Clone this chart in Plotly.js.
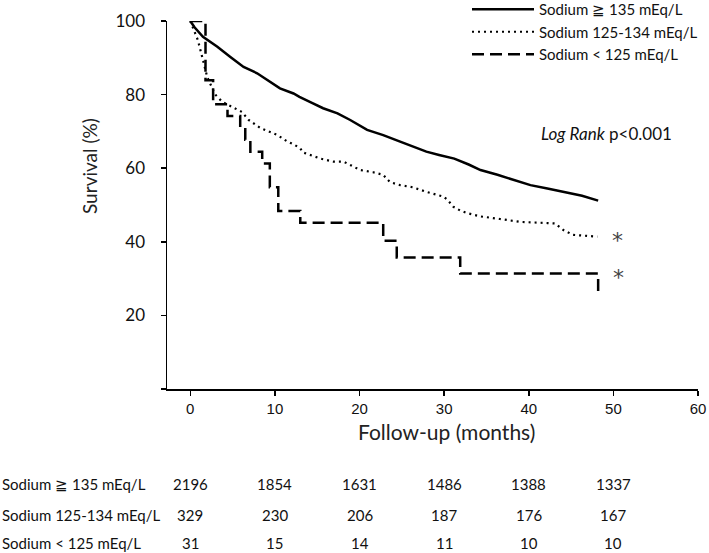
<!DOCTYPE html>
<html>
<head>
<meta charset="utf-8">
<script src="https://cdn.plot.ly/plotly-3.0.1.min.js"></script>
<style>html,body{margin:0;padding:0;background:#fff;}</style>
</head>
<body>
<div id="chart" style="width:709px;height:553px;"></div>
<script>
// Series names
const seriesNames = ["Sodium ≧ 135 mEq/L", "Sodium 125-134 mEq/L", "Sodium &lt; 125 mEq/L"];

// Sodium >= 135 (solid)
const highMonths = [0, 0.5, 1.5, 3.2, 4.7, 6.3, 7.9, 9.4, 10.6, 12.2, 12.9, 14.5, 15.7, 17.4, 18.9, 20.9, 22.8, 24.8, 26.3, 27.9, 29.4, 31.2, 32.9, 34.3, 36.3, 38.2, 40.2, 42.2, 43.5, 44.9, 46.3, 48.2];
const highSurv   = [100, 98.3, 95.7, 93.0, 90.3, 87.5, 85.8, 83.5, 81.7, 80.3, 79.4, 77.6, 76.3, 74.9, 73.1, 70.4, 69.0, 67.2, 65.8, 64.5, 63.6, 62.6, 61.0, 59.5, 58.2, 56.8, 55.4, 54.5, 53.9, 53.2, 52.5, 51.2];

// Sodium 125-134 (dotted)
const midMonths = [0, 0.9, 1.5, 2.0, 2.6, 3.0, 3.8, 5.0, 6.1, 6.9, 8.3, 10.3, 11.5, 12.2, 13.0, 13.3, 14.2, 15.4, 16.9, 18.1, 19.3, 20.1, 21.6, 22.8, 23.6, 24.8, 26.3, 28.0, 29.9, 30.4, 31.1, 31.9, 32.7, 34.3, 36.6, 39.0, 42.2, 43.1, 44.1, 45.2, 48.1];
const midSurv   = [100, 94.8, 89.4, 84.8, 81.7, 79.9, 78.0, 76.6, 75.3, 73.1, 70.9, 69.0, 67.2, 66.5, 65.4, 64.3, 63.6, 62.6, 61.8, 61.8, 60.4, 59.5, 58.9, 58.2, 56.2, 55.4, 54.8, 53.5, 52.3, 51.4, 49.5, 48.5, 47.8, 46.9, 46.2, 45.4, 45.1, 45.0, 43.2, 41.9, 41.4];

// Sodium < 125 (dashed, step function)
const lowMonths = [0, 1.8, 2.7, 4.4, 5.9, 6.5, 7.1, 8.5, 9.4, 10.4, 13.0, 22.8, 24.4, 31.9, 48.2];
const lowSurv   = [100, 83.9, 77.4, 74.2, 71.0, 67.7, 64.5, 61.3, 54.8, 48.4, 45.2, 40.3, 35.7, 31.4, 26.0];

// Number at risk table
const riskTimes = [0, 10, 20, 30, 40, 50];
const riskHigh = [2196, 1854, 1631, 1486, 1388, 1337];
const riskMid  = [329, 230, 206, 187, 176, 167];
const riskLow  = [31, 15, 14, 11, 10, 10];
const riskLabels = ["Sodium ≧ 135 mEq/L", "Sodium 125-134 mEq/L", "Sodium &lt; 125 mEq/L"];

// Axis ticks
const xTicks = [0, 10, 20, 30, 40, 50, 60];
const yTicks = [0, 20, 40, 60, 80, 100];
const yTickText = ["", "20", "40", "60", "80", "100"];

const calibri = "Lato, 'Open Sans', sans-serif";
const arial = "'Liberation Sans', Arial, sans-serif";

const traces = [
  {x: highMonths, y: highSurv, mode: "lines", name: seriesNames[0],
   line: {color: "#000", width: 2.5, shape: "linear"}},
  {x: midMonths, y: midSurv, mode: "lines", name: seriesNames[1],
   line: {color: "#000", width: 2.2, dash: "2px,4px", shape: "linear"}},
  {x: lowMonths, y: lowSurv, mode: "lines", name: seriesNames[2],
   line: {color: "#000", width: 2.5, dash: "12px,6px", shape: "hv"}}
];

// margins in px
const mL = 167, mR = 11, mT = 21, mB = 164;
const plotH = 553 - mT - mB;
const plotW = 709 - mL - mR;
function py(pix) { return (553 - mB - pix) / plotH; }   // pixel row -> paper y
function px(pix) { return (pix - mL) / plotW; }         // pixel col -> paper x

const annotations = [];
// Y axis title
annotations.push({text: "Survival (%)", xref: "paper", yref: "paper", x: px(89), y: py(166),
  xanchor: "center", yanchor: "middle",
  textangle: -90, showarrow: false, font: {family: calibri, size: 19, color: "#222"}});
// X axis title
annotations.push({text: "Follow-up (months)", xref: "paper", yref: "paper", x: px(446), y: py(431),
  xanchor: "center", yanchor: "middle",
  showarrow: false, font: {family: calibri, size: 21, color: "#222"}});
// Log rank
annotations.push({text: "<i>Log Rank</i> p&lt;0.001", xref: "paper", yref: "paper", x: px(539), y: py(133),
  xanchor: "left", yanchor: "middle", showarrow: false, font: {family: calibri, size: 17, color: "#111"}});
// Asterisks next to curve ends
annotations.push({text: "*", xref: "x", yref: "y", x: midMonths[midMonths.length - 1] + 2.4,
  y: midSurv[midSurv.length - 1], xanchor: "center", yanchor: "middle", showarrow: false, yshift: -4,
  font: {family: "DejaVu Sans", size: 22, color: "#444"}});
annotations.push({text: "*", xref: "x", yref: "y", x: lowMonths[lowMonths.length - 1] + 2.4,
  y: lowSurv[lowSurv.length - 2], xanchor: "center", yanchor: "middle", showarrow: false, yshift: -4,
  font: {family: "DejaVu Sans", size: 22, color: "#444"}});

// Risk table
const rowsY = [484, 515, 543];
const rowVals = [riskHigh, riskMid, riskLow];
for (let r = 0; r < 3; r++) {
  annotations.push({text: riskLabels[r], xref: "paper", yref: "paper", x: px(0), y: py(rowsY[r]),
    xanchor: "left", yanchor: "middle", showarrow: false, font: {family: calibri, size: 15, color: "#111"}});
  for (let i = 0; i < riskTimes.length; i++) {
    annotations.push({text: String(rowVals[r][i]), xref: "x", yref: "paper", x: riskTimes[i], y: py(rowsY[r]),
      xanchor: "center", yanchor: "middle",
      showarrow: false, font: {family: calibri, size: 15, color: "#111"}});
  }
}

const layout = {
  width: 709, height: 553,
  margin: {l: mL, r: mR, t: mT, b: mB, pad: 0, autoexpand: false},
  paper_bgcolor: "#fff", plot_bgcolor: "#fff",
  showlegend: true,
  legend: {x: px(467), y: 1 + (mT + 7) / plotH, xanchor: "left", yanchor: "top",
    font: {family: calibri, size: 15, color: "#111"}, bgcolor: "rgba(0,0,0,0)",
    tracegroupgap: 0, itemwidth: 62},
  xaxis: {range: [-2.75, 60], tickvals: xTicks, ticks: "outside", ticklen: 5, tickwidth: 1.5,
    tickcolor: "#000", showline: true, linecolor: "#000", linewidth: 1.5, showgrid: false,
    zeroline: false, tickfont: {family: arial, size: 15, color: "#111"}, ticklabelstandoff: 0},
  yaxis: {range: [0, 100], tickvals: yTicks, ticktext: yTickText, ticks: "outside", ticklen: 5,
    tickwidth: 1.5, tickcolor: "#000", showline: true, linecolor: "#000", linewidth: 1.5,
    showgrid: false, zeroline: false, tickfont: {family: calibri, size: 17, color: "#111"},
    ticklabelstandoff: 12},
  annotations: annotations
};

Plotly.newPlot("chart", traces, layout, {displayModeBar: false, staticPlot: true});
</script>
</body>
</html>
